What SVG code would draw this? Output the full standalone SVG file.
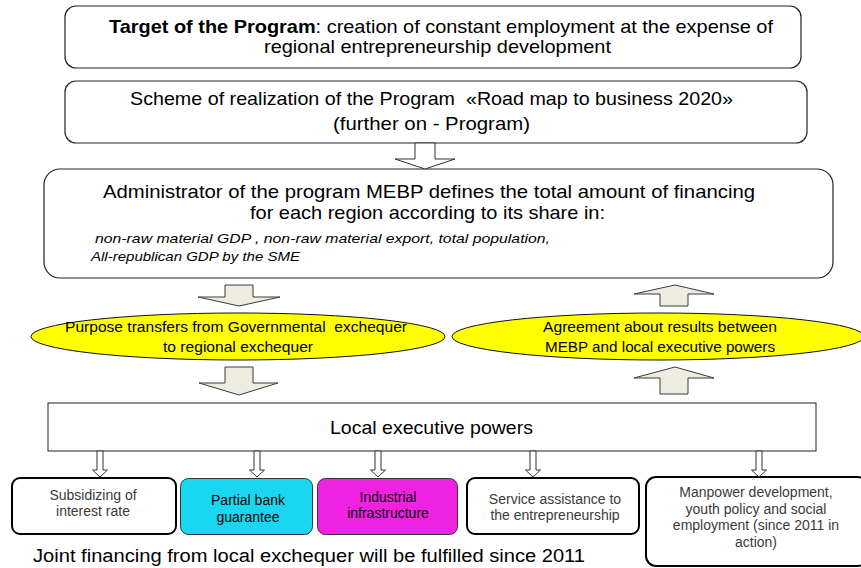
<svg xmlns="http://www.w3.org/2000/svg" width="861" height="568" viewBox="0 0 861 568">
  <style>
    .box { fill: #ffffff; stroke: #222222; stroke-width: 1.2; }
    .main { font-family: "Liberation Sans", "Noto Sans", Arial, sans-serif; fill: #000000; }
    .ital { font-family: "Liberation Sans", "Noto Sans", Arial, sans-serif; font-style: italic; font-size: 13px; fill: #000000; }
    .ell { fill: #ffff00; stroke: #111111; stroke-width: 1; }
    .etext { font-family: "Liberation Sans", "Noto Sans", Arial, sans-serif; font-size: 15.5px; fill: #000000; text-anchor: middle; }
    .block { fill: #eeece1; stroke: #3a3a3a; stroke-width: 1; }
    .hollow { fill: #ffffff; stroke: #333333; stroke-width: 1; }
    .sub { stroke: #000000; stroke-width: 2; }
    .subthin { stroke: #333333; stroke-width: 1; }
    .stext { font-family: "Liberation Sans", Arial, sans-serif; font-size: 14px; text-anchor: middle; }
  </style>

  <!-- program target -->
  <g id="target">
    <rect class="box" x="65" y="6" width="736" height="62" rx="11"/>
    <text class="main" font-size="18.5" x="109" y="33" textLength="664" lengthAdjust="spacingAndGlyphs"><tspan font-weight="bold">Target of the Program</tspan>: creation of constant employment at the expense of</text>
    <text class="main" font-size="18.5" x="264" y="53" textLength="347" lengthAdjust="spacingAndGlyphs">regional entrepreneurship development</text>
  </g>

  <!-- realization scheme -->
  <g id="scheme">
    <rect class="box" x="65" y="81" width="742" height="62" rx="11"/>
    <text class="main" font-size="18.5" x="130" y="105" textLength="603" lengthAdjust="spacingAndGlyphs" xml:space="preserve">Scheme of realization of the Program  «Road map to business 2020»</text>
    <text class="main" font-size="18.5" x="333" y="130" textLength="197" lengthAdjust="spacingAndGlyphs">(further on - Program)</text>
  </g>

  <!-- program administrator -->
  <g id="administrator">
    <rect class="box" x="44" y="169" width="789" height="109" rx="16"/>
    <text class="main" font-size="18.5" x="103" y="198" textLength="652" lengthAdjust="spacingAndGlyphs">Administrator of the program MEBP defines the total amount of financing</text>
    <text class="main" font-size="18.5" x="250" y="219" textLength="355" lengthAdjust="spacingAndGlyphs">for each region according to its share in:</text>
    <text class="ital" x="95" y="243" textLength="455" lengthAdjust="spacingAndGlyphs">non-raw material GDP , non-raw material export, total population,</text>
    <text class="ital" x="91" y="261" textLength="209" lengthAdjust="spacingAndGlyphs">All-republican GDP by the SME</text>
  </g>

  <!-- transfers -->
  <g id="transfers">
    <ellipse class="ell" cx="238" cy="336.5" rx="207" ry="23.5"/>
    <text class="etext" x="236" y="332" textLength="342" lengthAdjust="spacingAndGlyphs" xml:space="preserve">Purpose transfers from Governmental  exchequer</text>
    <text class="etext" x="238" y="352" textLength="150" lengthAdjust="spacingAndGlyphs">to regional exchequer</text>
  </g>

  <!-- agreement -->
  <g id="agreement">
    <ellipse class="ell" cx="658" cy="336.5" rx="206" ry="23.5"/>
    <text class="etext" x="660" y="332" textLength="234" lengthAdjust="spacingAndGlyphs">Agreement about results between</text>
    <text class="etext" x="660" y="352" textLength="230" lengthAdjust="spacingAndGlyphs">MEBP and local executive powers</text>
  </g>

  <!-- local executive powers -->
  <g id="local-powers">
    <rect x="48" y="403" width="768" height="48" fill="#ffffff" stroke="#222222" stroke-width="1"/>
    <text class="main" font-size="18.5" x="330" y="434" textLength="203" lengthAdjust="spacingAndGlyphs">Local executive powers</text>
  </g>

  <!-- support measures -->
  <g id="subsidizing">
    <rect class="sub" x="12" y="478" width="164" height="56" rx="8" fill="#ffffff"/>
    <text class="stext" fill="#3a3a3a" x="93" y="500">Subsidizing of</text>
    <text class="stext" fill="#3a3a3a" x="93" y="516">interest rate</text>
  </g>
  <g id="guarantee">
    <rect class="subthin" x="180.5" y="478.5" width="132" height="56" rx="8" fill="#19d7f0"/>
    <text class="stext" fill="#000000" x="248" y="505">Partial bank</text>
    <text class="stext" fill="#000000" x="248" y="522">guarantee</text>
  </g>
  <g id="infrastructure">
    <rect class="subthin" x="317.5" y="478.5" width="140" height="56" rx="8" fill="#ef22e2"/>
    <text class="stext" fill="#000000" x="388" y="502">Industrial</text>
    <text class="stext" fill="#000000" x="388" y="518">infrastructure</text>
  </g>
  <g id="service">
    <rect class="sub" x="467" y="478" width="172" height="56" rx="8" fill="#ffffff"/>
    <text class="stext" fill="#3a3a3a" x="555" y="504">Service assistance to</text>
    <text class="stext" fill="#3a3a3a" x="555" y="520">the entrepreneurship</text>
  </g>
  <g id="manpower">
    <rect class="sub" x="646" y="477" width="222" height="89" rx="10" fill="#ffffff"/>
    <text class="stext" fill="#3a3a3a" x="756" y="497">Manpower development,</text>
    <text class="stext" fill="#3a3a3a" x="756" y="514">youth policy and social</text>
    <text class="stext" fill="#3a3a3a" x="756" y="530">employment (since 2011 in</text>
    <text class="stext" fill="#3a3a3a" x="756" y="547">action)</text>
  </g>

  <!-- note -->
  <g id="note">
    <text class="main" font-size="18" x="33" y="562" textLength="552" lengthAdjust="spacingAndGlyphs">Joint financing from local exchequer will be fulfilled since 2011</text>
  </g>

  <!-- connectors -->
  <g id="connectors">
    <path class="hollow" d="M415,143 H435 V159 H455 L425,169 L395,159 H415 Z"/>
    <path class="block" d="M225,285 H253 V297 H280 L239,306 L198,297 H225 Z"/>
    <path class="block" d="M225,367 H253 V383 H278 L239,395 L199,383 H225 Z"/>
    <path class="block" d="M675,285 L714,294 H688 V306 H660 V294 H634 Z"/>
    <path class="block" d="M675,367 L714,378 H688 V394 H660 V378 H634 Z"/>
    <path class="hollow" d="M97,451 H103 V470 H107.5 L100,477 L92.5,470 H97 Z"/>
    <path class="hollow" d="M254,451 H260 V470 H264.5 L257,477 L249.5,470 H254 Z"/>
    <path class="hollow" d="M375,451 H381 V470 H385.5 L378,477 L370.5,470 H375 Z"/>
    <path class="hollow" d="M530,451 H536 V470 H540.5 L533,477 L525.5,470 H530 Z"/>
    <path class="hollow" d="M756,451 H762 V470 H766.5 L759,477 L751.5,470 H756 Z"/>
  </g>
</svg>
